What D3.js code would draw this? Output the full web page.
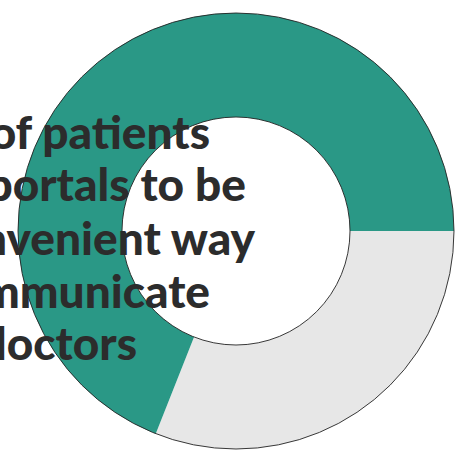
<!DOCTYPE html>
<html lang="en">
<head>
<meta charset="utf-8">
<title>donut</title>
<script src="https://d3js.org/d3.v7.min.js"></script>
<style>
  body { margin: 0; background: #fff; overflow: hidden; }
</style>
</head>
<body>
<svg id="chart" width="467" height="471"></svg>
<script>
// data
const categories = ["not convenient", "convenient"];
const values = [31, 69];
const colours = ["#e7e7e7", "#2a9886"];
const labelLines = ["of patients", "portals to be", "convenient way", "communicate", "doctors"];

// layout
const W = 467, H = 471;
const cx = 236, cy = 231;
const outerR = 218, innerR = 114;
const lineRight = [210, 246, 255, 210, 137];
const lineBase = [149, 201, 255, 308, 360];

const svg = d3.select("#chart");
const g = svg.append("g").attr("transform", `translate(${cx},${cy})`);

const pie = d3.pie().sort(null)
  .startAngle(Math.PI / 2)
  .endAngle(Math.PI / 2 + 2 * Math.PI);
const arc = d3.arc().innerRadius(innerR).outerRadius(outerR);

g.selectAll("path")
  .data(pie(values))
  .join("path")
  .attr("d", arc)
  .attr("fill", (d, i) => colours[i]);

// thin outlines on both rims
g.append("circle").attr("r", outerR).attr("fill", "none").attr("stroke", "#222").attr("stroke-width", 0.9);
g.append("circle").attr("r", innerR).attr("fill", "none").attr("stroke", "#222").attr("stroke-width", 0.9);

// headline text (runs off the left edge, as in the original)
svg.append("g")
  .selectAll("text")
  .data(labelLines)
  .join("text")
  .attr("x", (d, i) => lineRight[i])
  .attr("y", (d, i) => lineBase[i])
  .attr("text-anchor", "end")
  .attr("font-family", "Lato, 'Open Sans', sans-serif")
  .attr("font-weight", 900)
  .attr("font-size", 46)
  .attr("fill", "#2c2c2c")
  .text(d => d);
</script>
</body>
</html>
